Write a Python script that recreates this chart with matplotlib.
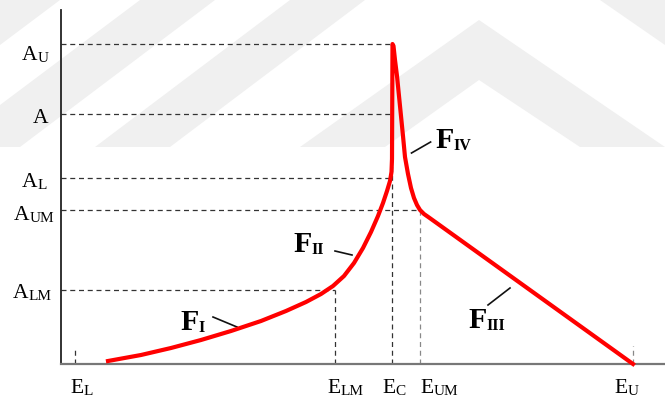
import matplotlib
matplotlib.use("Agg")
import matplotlib.pyplot as plt
from matplotlib.patches import Polygon

# schematic units: origin at the corner of the axes
E_TICKS = [14, 274, 331, 359, 572]
E_SUBS = ['L', 'LM', 'C', 'UM', 'U']
A_TICKS = [320, 250, 186, 154, 74]
A_SUBS = ['U', '', 'L', 'UM', 'LM']

# red response curve F_I .. F_IV
curve_x = [47, 80, 110, 140, 170, 200, 225, 245, 260, 272, 283, 293, 302,
           310, 317, 322, 326, 329, 330.5, 331, 331.5, 332.5, 334, 336, 338,
           340, 342, 344, 347, 350, 353, 356, 359, 363, 368, 572]
curve_y = [3, 9, 16, 24, 33, 43, 53, 62, 70, 78, 88, 101, 116,
           132, 148, 161, 173, 183, 192, 205, 320, 318, 304, 288, 268,
           248, 228, 207, 190, 176, 166, 159, 154, 150, 146.5, 0]

SERIF = 'Liberation Serif'

fig = plt.figure(figsize=(6.65, 3.98), dpi=100)

# faint background watermark, pixel coordinates
bg = fig.add_axes([0, 0, 1, 1], zorder=0)
bg.set_xlim(0, 665)
bg.set_ylim(398, 0)
bg.axis('off')
wm = '#f0f0f0'
shapes = [
    [(0, 0), (60, 0), (0, 45)],
    [(0, 105), (140, 0), (215, 0), (20, 147), (0, 147)],
    [(95, 147), (290, 0), (365, 0), (170, 147)],
    [(300, 147), (479, 20), (665, 147), (580, 147), (479, 80), (385, 147)],
    [(600, 0), (665, 0), (665, 45)],
]
for pts in shapes:
    bg.add_patch(Polygon(pts, closed=True, facecolor=wm, edgecolor='none'))

ax = fig.add_axes([61 / 665, 34 / 398, 604 / 665, 354 / 398], zorder=1)
ax.patch.set_alpha(0)
ax.set_xlim(0, 604)
ax.set_ylim(0, 354)
ax.set_xticks([])
ax.set_yticks([])
for side in ['top', 'right']:
    ax.spines[side].set_visible(False)
ax.spines['left'].set_color('#222222')
ax.spines['left'].set_linewidth(1.3)
ax.spines['bottom'].set_color('#777777')
ax.spines['bottom'].set_linewidth(1.6)

dash = (0, (4, 3))
dark = '#333333'
light = '#888888'

# guide lines from each level to the curve
ax.plot([0, 331.5], [A_TICKS[0]] * 2, ls=dash, lw=0.9, color=dark)
ax.plot([0, 329], [A_TICKS[1]] * 2, ls=dash, lw=0.9, color=dark)
ax.plot([0, 331], [A_TICKS[2]] * 2, ls=dash, lw=0.9, color=dark)
ax.plot([0, E_TICKS[3]], [A_TICKS[3]] * 2, ls=dash, lw=0.9, color=dark)
ax.plot([0, E_TICKS[1]], [A_TICKS[4]] * 2, ls=dash, lw=0.9, color=dark)

ax.plot([E_TICKS[0]] * 2, [0, 16], ls=dash, lw=0.9, color=dark)
ax.plot([E_TICKS[1]] * 2, [0, A_TICKS[4]], ls=dash, lw=0.9, color=dark)
ax.plot([E_TICKS[2]] * 2, [0, A_TICKS[0]], ls=dash, lw=0.9, color=dark)
ax.plot([E_TICKS[3]] * 2, [0, A_TICKS[3]], ls=dash, lw=0.9, color=light)
ax.plot([E_TICKS[4]] * 2, [0, 18], ls=dash, lw=0.9, color=light)

ax.plot(curve_x, curve_y, color='#ff0000', lw=3, solid_joinstyle='round',
        zorder=3, clip_on=False)


def sub_label(x, y, main, sub, size, subsize, weight='normal', drop=1.0):
    t = ax.text(x, y, main, fontsize=size, fontweight=weight, family=SERIF,
                ha='left', va='baseline', clip_on=False)
    if sub:
        ax.annotate(sub, xy=(1, 0), xycoords=t,
                    xytext=(0.3, 0.215 * size - drop), textcoords='offset points',
                    fontsize=subsize, fontweight=weight, family=SERIF,
                    ha='left', va='baseline', annotation_clip=False)


# level labels on the left
a_left = [-39, -28, -39, -47, -48]
a_base = [-16, -9, -9, -10, -8]
for yv, s, lx, b in zip(A_TICKS, A_SUBS, a_left, a_base):
    sub_label(lx, yv + b, 'A', s, 15.5, 11)

# energy labels below
e_left = [-5, -8, -10, 0, -19]
for xv, s, lx in zip(E_TICKS, E_SUBS, e_left):
    sub_label(xv + lx, -29, 'E', s, 15.5, 11)

# region names with leader lines
regions = [('I', 119, 34, (152, 47), (176, 37)),
           ('II', 232, 112, (274, 113), (291, 109)),
           ('III', 407, 36, (427, 59), (449, 76)),
           ('IV', 374, 216, (350.5, 211), (369.6, 222))]
for s, tx, ty, p0, p1 in regions:
    sub_label(tx, ty, 'F', s, 21.5, 11.5, weight='bold', drop=1.5)
    ax.plot([p0[0], p1[0]], [p0[1], p1[1]], color='#111111', lw=1.2)

fig.savefig('out.png', dpi=100)
